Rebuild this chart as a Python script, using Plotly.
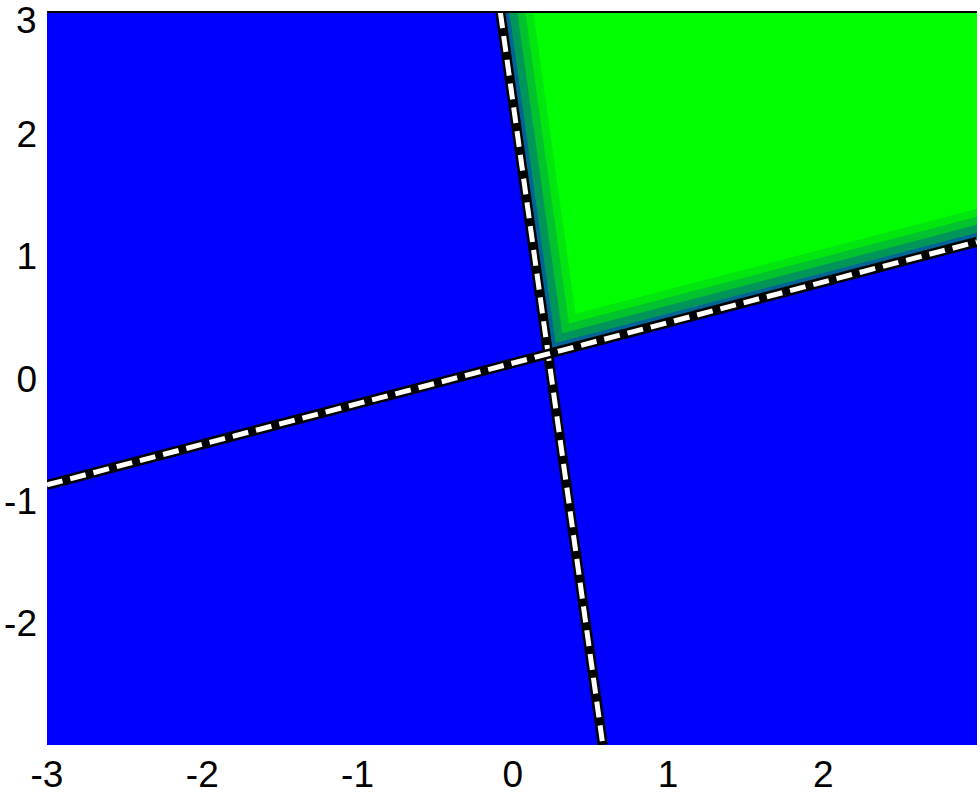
import plotly.graph_objects as go

# axis extents
x_lim = [-3.0, 2.99]
y_lim = [-3.0, 3.002]
x_ticks = [-3, -2, -1, 0, 1, 2]
x_labels = ["-3", "-2", "-1", "0", "1", "2"]
y_ticks = [-2, -1, 0, 1, 2]
y_labels = ["-2", "-1", "0", "1", "2"]
y_top_label = "3"

# decision boundaries
steep_x = [-0.08, 0.58]
steep_y = [3.0, -3.0]
flat_x = [-3.0, 2.99]
flat_y = [-0.87, 1.12]

# inner shading bands next to the boundaries (px offset from line, colour)
band_px = [0, 9, 17, 25, 33]
band_colors = ["rgb(0,100,150)", "rgb(0,150,90)", "rgb(0,195,45)",
               "rgb(0,230,15)", "rgb(0,255,0)"]

PX_X = 155.2  # pixels per x unit
PX_Y = 122.2  # pixels per y unit


def region(off_px):
    dx = off_px / PX_X
    dy = off_px / PX_Y
    s = (steep_x[1] - steep_x[0]) / (steep_y[1] - steep_y[0])
    m = (flat_y[1] - flat_y[0]) / (flat_x[1] - flat_x[0])
    a = steep_x[0] + dx  # x at y = steep_y[0]
    b = flat_y[0] + dy   # y at x = flat_x[0]
    # x = a + s*(y - y0);  y = b + m*(x - x0)
    y0, x0 = steep_y[0], flat_x[0]
    xi = (a + s * (b - m * x0 - y0)) / (1 - s * m)
    yi = b + m * (xi - x0)
    yr = b + m * (x_lim[1] - x0)
    xs = [xi, a, x_lim[1], x_lim[1], xi]
    ys = [yi, y_lim[1], y_lim[1], yr, yi]
    return xs, ys


fig = go.Figure()

for off, col in zip(band_px, band_colors):
    xs, ys = region(off)
    fig.add_trace(go.Scatter(x=xs, y=ys, mode="lines", fill="toself",
                             fillcolor=col, line={"width": 0},
                             hoverinfo="skip", showlegend=False))

for lx, ly in [(steep_x, steep_y), (flat_x, flat_y)]:
    fig.add_trace(go.Scatter(x=lx, y=ly, mode="lines",
                             line={"color": "black", "width": 10},
                             showlegend=False))
    fig.add_trace(go.Scatter(x=lx, y=ly, mode="lines",
                             line={"color": "white", "width": 5, "dash": "16px,8px"},
                             showlegend=False))

fig.add_shape(type="line", xref="paper", yref="paper", x0=0, x1=1, y0=1, y1=1,
              line={"color": "black", "width": 2})

# top y label sits a little below its tick, as in the original
fig.add_annotation(text=y_top_label, xref="paper", yref="y", x=0, y=3,
                   xanchor="right", yanchor="top", xshift=-9, yshift=13,
                   borderpad=0, showarrow=False, font={"size": 37})

fig.update_layout(
    width=980,
    height=799,
    margin={"l": 47, "r": 3, "t": 12, "b": 54, "autoexpand": False},
    paper_bgcolor="white",
    plot_bgcolor="rgb(0,0,255)",
    font={"family": "Liberation Sans, Arial", "size": 37, "color": "black"},
    xaxis={"range": x_lim, "tickvals": x_ticks, "ticktext": x_labels,
           "showgrid": False, "zeroline": False, "ticks": "",
           "automargin": False, "ticklabelstandoff": 4,
           "ticklabeloverflow": "allow"},
    yaxis={"range": y_lim, "tickvals": y_ticks, "ticktext": y_labels,
           "showgrid": False, "zeroline": False, "ticks": "",
           "automargin": False, "ticklabelstandoff": 9,
           "ticklabeloverflow": "allow"},
)

fig.write_html("out.html", config={"displayModeBar": False},
               post_script="document.body.style.margin='0';")
